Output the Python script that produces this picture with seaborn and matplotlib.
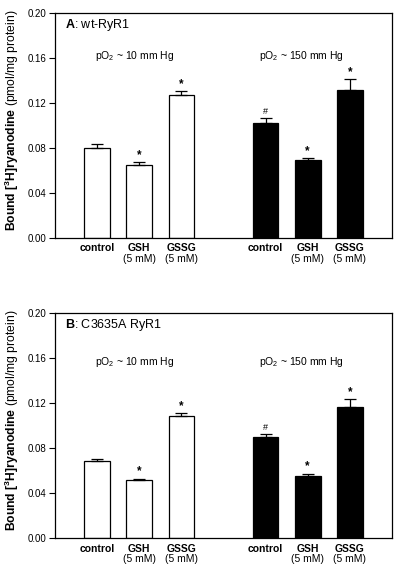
import matplotlib
matplotlib.use('Agg')
import matplotlib.pyplot as plt
import matplotlib.transforms as mtransforms
import pandas as pd
import seaborn as sns

# bar order: pO2 ~10 mm Hg (white) then pO2 ~150 mm Hg (black)
conditions = ['control', 'GSH', 'GSSG', 'control', 'GSH', 'GSSG']
sublabels = ['', '(5 mM)', '(5 mM)', '', '(5 mM)', '(5 mM)']
oxygen = ['low', 'low', 'low', 'high', 'high', 'high']
positions = [0, 1, 2, 4, 5, 6]

wt_mean = [0.0795, 0.0646, 0.1268, 0.1020, 0.0688, 0.1313]
wt_sem = [0.0044, 0.0027, 0.0036, 0.0048, 0.0021, 0.0100]
wt_marks = ['', '*', '*', '#', '*', '*']

mut_mean = [0.0684, 0.0516, 0.1084, 0.0904, 0.0554, 0.1167]
mut_sem = [0.0018, 0.0015, 0.0033, 0.0026, 0.0021, 0.0074]
mut_marks = ['', '*', '*', '#', '*', '*']

panels = [
    (r'$\mathbf{A}$: wt-RyR1', wt_mean, wt_sem, wt_marks, 0.162),
    (r'$\mathbf{B}$: C3635A RyR1', mut_mean, mut_sem, mut_marks, 0.157),
]

sns.set_style('ticks')
plt.rcParams['font.family'] = ['Liberation Sans', 'DejaVu Sans']
plt.rcParams['mathtext.fontset'] = 'custom'
plt.rcParams['mathtext.rm'] = 'Liberation Sans'
plt.rcParams['mathtext.bf'] = 'Liberation Sans:bold'
plt.rcParams['mathtext.it'] = 'Liberation Sans:italic'
for key in ['text.color', 'axes.labelcolor', 'xtick.color', 'ytick.color', 'axes.edgecolor']:
    plt.rcParams[key] = 'black'

fig = plt.figure(figsize=(4, 5.72), dpi=100)
axes_boxes = [[0.1375, 0.5845, 0.8425, 0.3922], [0.1375, 0.0589, 0.8425, 0.3934]]

for box, (title, mean, sem, marks, ptext_y) in zip(axes_boxes, panels):
    ax = fig.add_axes(box)
    df = pd.DataFrame({'pos': positions, 'value': mean, 'oxygen': oxygen})
    sns.barplot(data=df, x='pos', y='value', hue='oxygen', native_scale=True,
                palette={'low': 'white', 'high': 'black'}, dodge=False,
                width=0.61, edgecolor='black', linewidth=0.9, errorbar=None,
                legend=False, ax=ax)
    ax.errorbar(positions, mean, yerr=[[0] * len(sem), sem], fmt='none',
                ecolor='black', elinewidth=0.9, capsize=4, capthick=0.9)

    for x, m, s, mk in zip(positions, mean, sem, marks):
        if mk == '*':
            ax.text(x, m + s + 0.0062, mk, ha='center', va='center',
                    fontsize=8.5, fontweight='bold')
        elif mk:
            ax.text(x, m + s + 0.0058, mk, ha='center', va='center',
                    fontsize=6.5)

    trans = mtransforms.blended_transform_factory(ax.transData, ax.transAxes)
    for x, c, sub in zip(positions, conditions, sublabels):
        ax.text(x, -0.046, c, transform=trans, ha='center', va='center',
                fontsize=7.5, fontweight='bold')
        if sub:
            ax.text(x, -0.093, sub, transform=trans, ha='center', va='center',
                    fontsize=7.5)

    ax.text(0.88, ptext_y, r'pO$_2$ ~ 10 mm Hg', ha='center', va='center', fontsize=7.5)
    ax.text(4.86, ptext_y, r'pO$_2$ ~ 150 mm Hg', ha='center', va='center', fontsize=7.5)
    ax.text(0.03, 0.948, title, transform=ax.transAxes, ha='left', va='center', fontsize=9)

    ax.set_xlim(-1, 7.0)
    ax.set_ylim(0, 0.2)
    ax.set_yticks([0, 0.04, 0.08, 0.12, 0.16, 0.2])
    ax.set_yticklabels(['0.00', '0.04', '0.08', '0.12', '0.16', '0.20'])
    ax.set_xticks([])
    ax.set_xlabel('')
    ax.set_ylabel('')
    ax.tick_params(axis='y', direction='out', length=4, width=0.8, labelsize=7, pad=2)
    for sp in ax.spines.values():
        sp.set_visible(True)
        sp.set_linewidth(0.9)
        sp.set_color('black')

    yc = box[1] + box[3] / 2 + 0.009
    fig.text(0.03, yc, r'$\mathbf{Bound\ [^3H]ryanodine}$ (pmol/mg protein)',
             rotation=90, ha='center', va='center', fontsize=8.7)

fig.savefig('out.png', dpi=100)
